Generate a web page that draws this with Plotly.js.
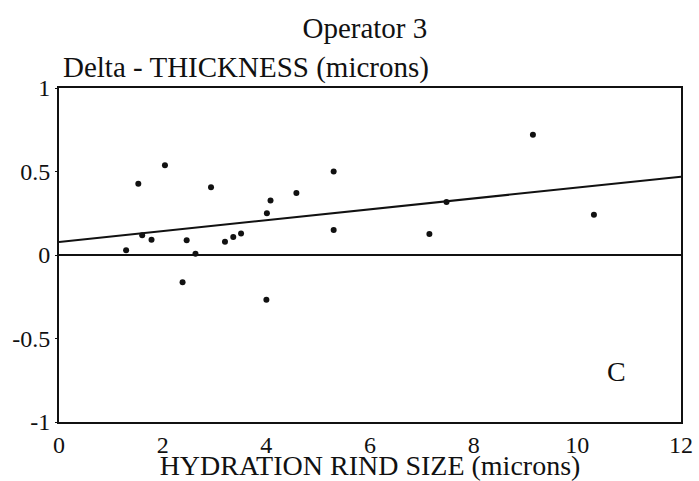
<!DOCTYPE html>
<html>
<head>
<meta charset="utf-8">
<script src="https://cdn.plot.ly/plotly-3.0.1.min.js"></script>
<style>html,body{margin:0;padding:0;background:#fff;}#chart{width:699px;height:481px;}</style>
</head>
<body>
<div id="chart"></div>
<script>
const rindSize = [1.295, 1.53, 1.605, 1.785, 2.044, 2.384, 2.463, 2.633, 2.933, 3.202, 3.362, 3.512, 4.001, 4.011, 4.081, 4.58, 5.299, 5.299, 7.146, 7.476, 9.143, 10.32];
const deltaThickness = [0.028, 0.427, 0.118, 0.092, 0.537, -0.163, 0.088, 0.008, 0.405, 0.08, 0.108, 0.128, -0.268, 0.25, 0.327, 0.371, 0.50, 0.15, 0.126, 0.317, 0.72, 0.241];
const fitX = [0, 12];
const fitY = [0.078, 0.469];
const xTicks = [0, 2, 4, 6, 8, 10, 12];
const yTicks = [-1, -0.5, 0, 0.5, 1];

const fam = '"Liberation Serif", "Times New Roman", serif';
const tickFont = {family: fam, color: '#111', size: 24};
const titleFont = {family: fam, color: '#111', size: 28};
const topFont = {family: fam, color: '#111', size: 29};

const traces = [
  {x: fitX, y: fitY, mode: 'lines', line: {color: '#111', width: 2}, hoverinfo: 'skip'},
  {x: rindSize, y: deltaThickness, mode: 'markers', marker: {color: '#111', size: 6}}
];

const layout = {
  width: 699, height: 481,
  margin: {l: 59, r: 18, t: 88, b: 59},
  paper_bgcolor: '#fff', plot_bgcolor: '#fff',
  showlegend: false,
  font: titleFont,
  title: {text: 'Operator 3', x: 0.522, xanchor: 'center', y: 0.942, yanchor: 'middle', font: topFont},
  xaxis: {
    range: [0, 12], tickvals: xTicks, ticktext: xTicks.map(String),
    showgrid: false, zeroline: false, showline: true, mirror: true, linecolor: '#111', linewidth: 2,
    ticks: '', tickfont: tickFont,
    title: {text: 'HYDRATION RIND SIZE (microns)', font: titleFont, standoff: 4}
  },
  yaxis: {
    range: [-1, 1], tickvals: yTicks, ticktext: ['-1', '-0.5', '0', '0.5', '1'],
    showgrid: false, zeroline: true, zerolinecolor: '#111', zerolinewidth: 2,
    showline: true, mirror: true, linecolor: '#111', linewidth: 2,
    ticks: 'outside', ticklen: 2, tickcolor: '#111', tickfont: tickFont
  },
  annotations: [
    {text: 'Delta - THICKNESS (microns)', xref: 'paper', yref: 'paper', x: 0, y: 1, xanchor: 'left', yanchor: 'bottom', xshift: 2, yshift: 2, showarrow: false, font: topFont},
    {text: 'C', xref: 'x', yref: 'y', x: 10.75, y: -0.70, showarrow: false, font: titleFont}
  ]
};

Plotly.newPlot('chart', traces, layout, {displayModeBar: false, staticPlot: true});
</script>
</body>
</html>
